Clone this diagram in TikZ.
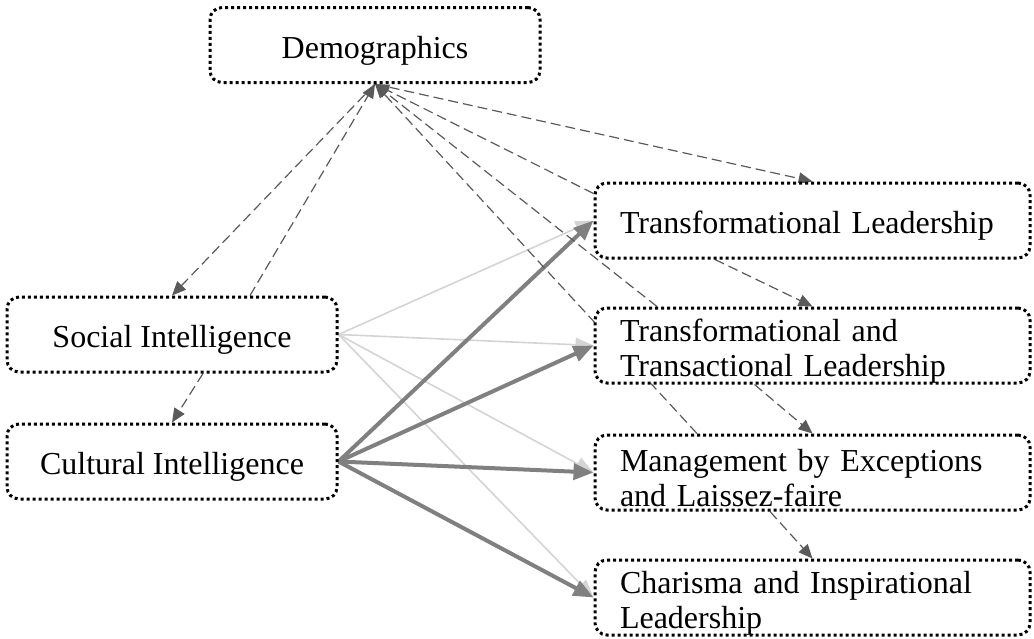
\documentclass[tikz,border=0pt]{standalone}
\usepackage{fontspec}
\setmainfont{Liberation Serif}
\usetikzlibrary{arrows.meta,backgrounds}
\definecolor{dashgray}{RGB}{90,90,90}
\definecolor{darkpath}{RGB}{128,128,128}
\definecolor{lightpath}{RGB}{212,212,212}

\tikzset{
  box/.style={draw=black, fill=white, line width=1.5pt, dash pattern=on 1.5pt off 1.5pt, rounded corners=6pt, minimum height=37.5pt, inner ysep=0pt, font=\fontsize{16}{17.5}\selectfont, execute at begin node={\rule{0pt}{16.5pt}}},
  leftbox/.style={box, minimum width=165pt, align=center},
  rightbox/.style={box, minimum width=217.5pt, text width=192.5pt, inner xsep=12.5pt, align=left},
  dasharrow/.style={-{Triangle[length=7pt,width=6pt]}, dashgray, line width=0.6pt, dash pattern=on 5pt off 2.5pt},
  lightarrow/.style={-{Triangle[length=9pt,width=7pt]}, lightpath, line width=0.8pt},
  darkarrow/.style={-{Triangle[length=10pt,width=8pt]}, darkpath, line width=2pt}
}

\begin{document}
\begin{tikzpicture}[x=0.5pt, y=-0.5pt]
  \useasboundingbox (0,0) rectangle (1034,638);
  % predictors
  \node[leftbox] (dem) at (375,45) {Demographics};
  \node[leftbox] (soc) at (172,334.5) {Social Intelligence};
  \node[leftbox] (cul) at (172,461.5) {Cultural Intelligence};
  % leadership styles
  \node[rightbox] (tl) at (812.5,220.5) {Transformational Leadership};
  \node[rightbox] (ttl) at (812.5,345.5) {Transformational and\\Transactional Leadership};
  \node[rightbox] (mbe) at (812.5,472.5) {Management by Exceptions\\and Laissez-faire};
  \node[rightbox] (cil) at (812.5,597.5) {Charisma and Inspirational\\Leadership};

  \begin{scope}[on background layer]
    \foreach \t in {tl,ttl,mbe,cil}
      \draw[lightarrow] (soc.east) -- (\t.west);
    \foreach \t in {tl,ttl,mbe,cil}
      \draw[darkarrow] (cul.east) -- (\t.west);
    % dashed paths
    \draw[dasharrow] (dem.south) -- (soc.north);
    \draw[dasharrow] ([xshift=39pt]soc.north) -- (dem.south);
    \draw[dasharrow] ([xshift=15.5pt]soc.south) -- (cul.north);
    \draw[dasharrow] (dem.south) -- (tl.north);
    \draw[dasharrow] ([yshift=13.5pt]tl.west) -- (dem.south);
    \draw[dasharrow] ([xshift=-77.75pt]ttl.north) -- (dem.south);
    \draw[dasharrow] ([xshift=-57.75pt]mbe.north) -- (dem.south);
    \draw[dasharrow] ([xshift=-48.75pt]tl.south) -- (ttl.north);
    \draw[dasharrow] ([xshift=-29pt]ttl.south) -- (mbe.north);
    \draw[dasharrow] ([xshift=-21.25pt]mbe.south) -- (cil.north);
  \end{scope}
\end{tikzpicture}
\end{document}
